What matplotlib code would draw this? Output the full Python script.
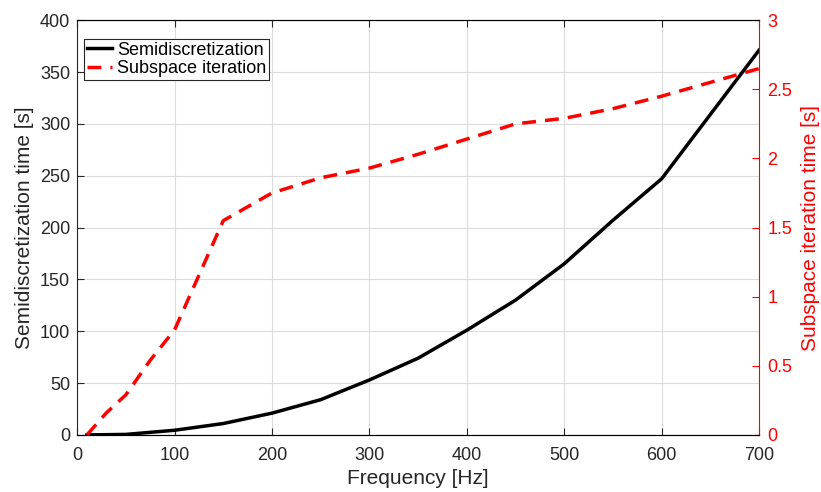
import matplotlib.pyplot as plt
import numpy as np

plt.rcParams['font.family'] = ['Liberation Sans', 'DejaVu Sans']

# semidiscretization timings
freq_semi = [10, 50, 100, 150, 200, 250, 300, 350, 400, 450, 500, 550, 600, 700]
time_semi = [0, 0.5, 4.5, 11, 21, 34, 53, 74, 101, 130, 165, 207, 247, 371]

# subspace iteration timings
freq_sub = [10, 30, 50, 75, 100, 150, 200, 250, 300, 350, 400, 450, 500, 550, 600, 700]
time_sub = [0, 0.16, 0.29, 0.54, 0.76, 1.55, 1.75, 1.86, 1.93, 2.03, 2.14, 2.25, 2.29, 2.36, 2.45, 2.65]

fig, ax = plt.subplots(figsize=(8.21, 4.92), dpi=100)
fig.subplots_adjust(left=0.094, right=0.9245, top=0.959, bottom=0.116)
ax2 = ax.twinx()

l1, = ax.plot(freq_semi, time_semi, color='black', lw=2.5, label='Semidiscretization')
l2, = ax2.plot(freq_sub, time_sub, color='red', lw=2.5, ls=(0, (4, 2.6)), label='Subspace iteration')

ax.set_xlim(0, 700)
ax.set_ylim(0, 400)
ax2.set_ylim(0, 3)
ax.set_xticks(np.arange(0, 701, 100))
ax.set_yticks(np.arange(0, 401, 50))
ax2.set_yticks([0, 0.5, 1, 1.5, 2, 2.5, 3])
ax2.set_yticklabels(['0', '0.5', '1', '1.5', '2', '2.5', '3'])

ax.grid(True, color='#dcdcdc', lw=0.8)
ax.set_axisbelow(True)

ax.tick_params(direction='in', labelsize=13, colors='#262626', length=5, top=True)
ax.tick_params(axis='x', pad=9)
ax.tick_params(axis='y', pad=5)
ax2.tick_params(direction='in', labelsize=13, colors='red', length=5, pad=6)
for s in ['left', 'bottom', 'top']:
    ax.spines[s].set_color('#262626')
ax2.spines['right'].set_color('red')
ax2.spines['left'].set_visible(False)
ax.spines['right'].set_visible(False)

ax.set_xlabel('Frequency [Hz]', fontsize=15, color='#262626', labelpad=3)
ax.set_ylabel('Semidiscretization time [s]', fontsize=15, color='#262626', labelpad=4)
ax2.set_ylabel('Subspace iteration time [s]', fontsize=15, color='red', labelpad=6)

leg = ax2.legend(handles=[l1, l2], loc='upper left', bbox_to_anchor=(0.01, 0.955),
                 fontsize=13, fancybox=False, edgecolor='#262626', framealpha=1,
                 borderpad=0.15, labelspacing=0.1, handlelength=1.4,
                 handletextpad=0.3, borderaxespad=0)
leg.get_frame().set_linewidth(0.8)

plt.savefig('out.png', dpi=100)
